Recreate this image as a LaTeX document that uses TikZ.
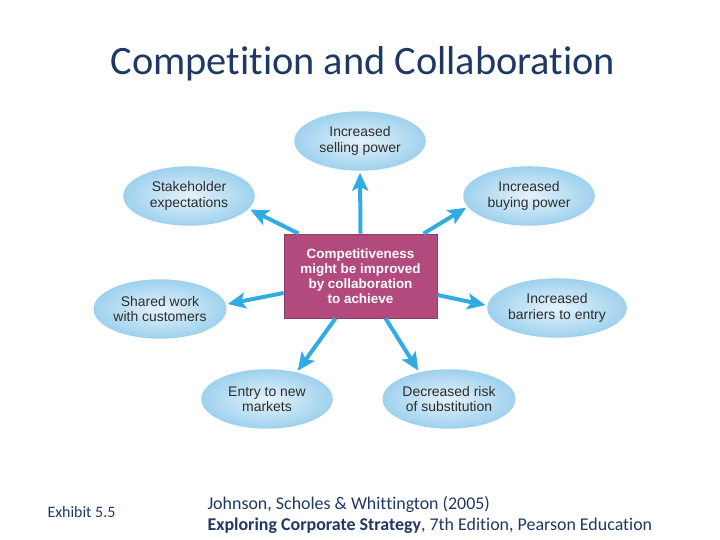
\documentclass[tikz,border=0pt]{standalone}
\usepackage{fontspec}
\setmainfont{Carlito}[Ligatures=NoCommon]
\newfontfamily\arialfont{Liberation Sans}
\usetikzlibrary{arrows.meta,shapes.geometric}

\definecolor{titleblue}{RGB}{31,56,100}
\definecolor{corepink}{RGB}{178,74,126}
\definecolor{arrowblue}{RGB}{48,172,226}
\definecolor{ovalin}{RGB}{228,242,251}
\definecolor{ovalout}{RGB}{160,210,238}
\definecolor{ovaltext}{RGB}{45,45,45}

\tikzset{
  aim/.style={ellipse,inner sep=0pt,minimum width=130bp,minimum height=58bp,
    inner color=ovalin,outer color=ovalout,draw=ovalout,line width=1.5bp,
    align=center,text=ovaltext,font=\arialfont\fontsize{14}{15.5}\selectfont},
  core/.style={rectangle,fill=corepink,draw=corepink!80!black,line width=0.8bp,
    minimum width=153bp,minimum height=84bp,align=center,text=white,
    font=\arialfont\bfseries\fontsize{13.5}{15}\selectfont},
  push/.style={-{Stealth[length=18bp,width=16bp,inset=4bp]},line width=4bp,arrowblue,shorten >=2bp}
}

\begin{document}
\begin{tikzpicture}[x=1bp,y=1bp]
\useasboundingbox (0,0) rectangle (720,540);

\node[text=titleblue,font=\fontsize{40.5}{44}\selectfont] (title) at (363,476) {Competition and Collaboration};

\node[core] (centre) at (360.5,264) {Competitiveness\\might be improved\\by collaboration\\to achieve};

\node[aim] (sell) at (360,399) {Increased\\selling power};
\node[aim] (stake) at (189,344) {Stakeholder\\expectations};
\node[aim] (buy) at (529,344) {Increased\\buying power};
\node[aim] (share) at (160,231) {Shared work\\with customers};
\node[aim] (barr) at (557,232) {Increased\\barriers to entry};
\node[aim] (entry) at (267,141) {Entry to new\\markets};
\node[aim] (risk) at (449,141) {Decreased risk\\of substitution};

\draw[push] (centre.north) -- (sell.south);
\draw[push] ([xshift=-62bp]centre.north) -- (stake.-12);
\draw[push] ([xshift=63bp]centre.north) -- (buy.190);
\draw[push] ([yshift=-17bp]centre.west) -- (share.4);
\draw[push] ([yshift=-19bp]centre.east) -- (barr.178);
\draw[push] ([xshift=-25bp]centre.south) -- (entry.42);
\draw[push] ([xshift=25bp]centre.south) -- (risk.138);

\node[anchor=west,text=titleblue,font=\fontsize{16}{18}\selectfont] (exhibit) at (44,28) {Exhibit 5.5};
\node[anchor=west,text=titleblue,font=\fontsize{18}{20}\selectfont] (source) at (204,36) {Johnson, Scholes \& Whittington (2005)};
\node[anchor=west,text=titleblue,font=\fontsize{18}{20}\selectfont] (book) at (204,14) {\textbf{Exploring Corporate Strategy}, 7th Edition, Pearson Education};
\end{tikzpicture}
\end{document}
